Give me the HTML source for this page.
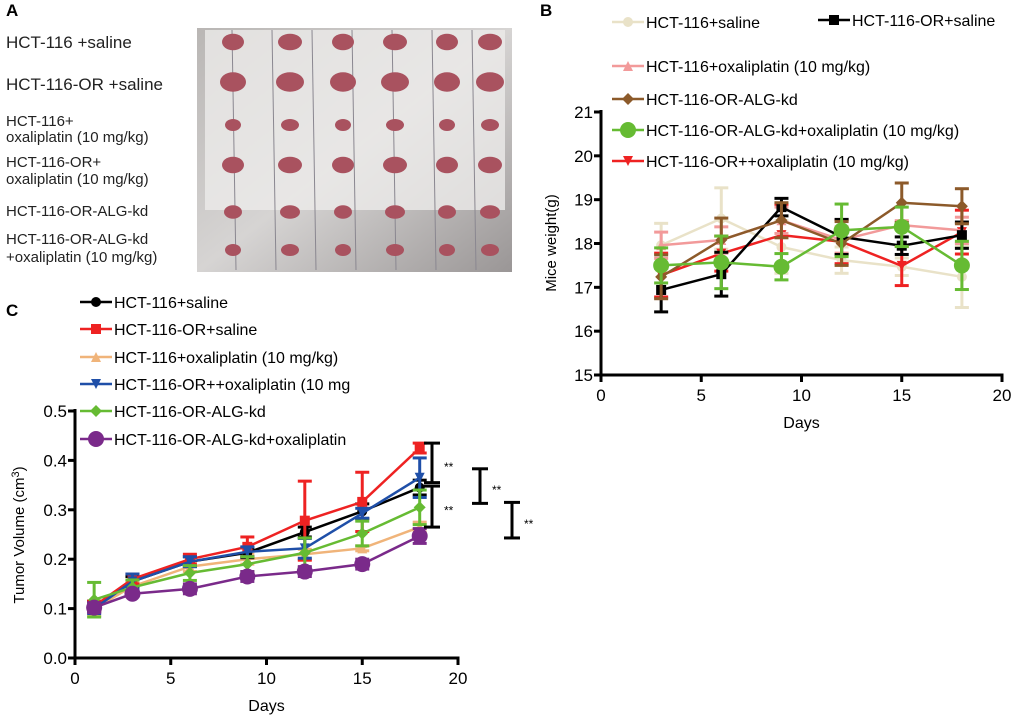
<!DOCTYPE html>
<html><head><meta charset="utf-8"><style>
body{margin:0;background:#fff;width:1020px;height:718px;overflow:hidden;font-family:"Liberation Sans",Arial,sans-serif}
svg text{font-family:"Liberation Sans",Arial,sans-serif}
</style></head><body>
<svg id="fig" width="1020" height="718" xmlns="http://www.w3.org/2000/svg">
<g>
<text x="6" y="16" font-size="17" font-weight="bold">A</text>
<defs><linearGradient id="pg" x1="0" y1="0" x2="1" y2="1"><stop offset="0" stop-color="#b9b6b4"/><stop offset="0.5" stop-color="#d6d4d3"/><stop offset="1" stop-color="#9a9696"/></linearGradient></defs>
<rect x="197" y="28" width="315" height="244" fill="url(#pg)"/>
<g id="photo"></g>
<g font-size="15" fill="#222">
<text x="6" y="48" font-size="17">HCT-116 +saline</text>
<text x="6" y="90" font-size="17">HCT-116-OR +saline</text>
<text x="6" y="126">HCT-116+</text><text x="6" y="142">oxaliplatin (10 mg/kg)</text>
<text x="6" y="167">HCT-116-OR+</text><text x="6" y="184">oxaliplatin (10 mg/kg)</text>
<text x="6" y="216">HCT-116-OR-ALG-kd</text>
<text x="6" y="244">HCT-116-OR-ALG-kd</text><text x="6" y="262">+oxaliplatin (10 mg/kg)</text>
</g></g>
<text x="540" y="16" font-size="17" font-weight="bold">B</text>
<text x="6" y="316" font-size="17" font-weight="bold">C</text>
<g id="pb"></g>
<g id="pc"></g>
</svg>
<script>
// Panel B data
const bDays=[3,6,9,12,15,18];
const bNames=["HCT-116+saline","HCT-116-OR+saline","HCT-116+oxaliplatin (10 mg/kg)","HCT-116-OR-ALG-kd","HCT-116-OR-ALG-kd+oxaliplatin (10 mg/kg)","HCT-116-OR++oxaliplatin (10 mg/kg)"];
const bBeige=[17.96,18.57,17.92,17.62,17.47,17.24];
const bBlack=[16.94,17.3,18.83,18.15,17.95,18.19];
const bPink=[17.96,18.08,18.53,18.08,18.42,18.3];
const bBrown=[17.24,18.08,18.53,18.0,18.93,18.85];
const bGreen=[17.5,17.57,17.47,18.3,18.38,17.5];
const bRed=[17.28,17.77,18.19,18.04,17.49,18.26];
const bErrBeige=[0.5,0.7,0.6,0.3,0.2,0.7];
const bErrBlack=[0.5,0.5,0.2,0.4,0.2,0.3];
const bErrPink=[0.3,0.3,0.3,0.3,0.1,0.3];
const bErrBrown=[0.5,0.5,0.4,0.5,0.45,0.4];
const bErrGreen=[0.4,0.6,0.3,0.6,0.45,0.55];
const bErrRed=[0.5,0.4,0.7,0.5,0.45,0.5];
// Panel C data
const cDays=[1,3,6,9,12,15,18];
const cNames=["HCT-116+saline","HCT-116-OR+saline","HCT-116+oxaliplatin (10 mg/kg)","HCT-116-OR++oxaliplatin (10 mg","HCT-116-OR-ALG-kd","HCT-116-OR-ALG-kd+oxaliplatin"];
const cBlack=[0.105,0.155,0.195,0.213,0.255,0.297,0.345];
const cRed=[0.105,0.16,0.2,0.225,0.278,0.316,0.425];
const cBeige=[0.1,0.145,0.185,0.2,0.21,0.222,0.265];
const cBlue=[0.1,0.155,0.195,0.215,0.222,0.293,0.365];
const cGreen=[0.118,0.143,0.172,0.19,0.213,0.252,0.305];
const cPurple=[0.102,0.13,0.14,0.165,0.175,0.19,0.247];
const cErrBlack=[0.01,0.01,0.01,0.01,0.01,0.015,0.015];
const cErrRed=[0.01,0.01,0.01,0.02,0.08,0.06,0.01];
const cErrBeige=[0.015,0.01,0.01,0.01,0.01,0.005,0.01];
const cErrBlue=[0.01,0.015,0.01,0.01,0.02,0.01,0.04];
const cErrGreen=[0.035,0.015,0.015,0.015,0.03,0.025,0.035];
const cErrPurple=[0.01,0.005,0.01,0.01,0.01,0.01,0.015];
const bTicksY=[15,16,17,18,19,20,21];
const cTicksY=[0.0,0.1,0.2,0.3,0.4,0.5];
const xTicks=[0,5,10,15,20];
const NS="http://www.w3.org/2000/svg";
function mk(p,t,a){const e=document.createElementNS(NS,t);for(const k in a)e.setAttribute(k,a[k]);p.appendChild(e);return e;}
function marker(g,shape,x,y,c,s){
 if(shape==="sq")return mk(g,"rect",{x:x-s,y:y-s,width:2*s,height:2*s,fill:c});
 if(shape==="circ")return mk(g,"circle",{cx:x,cy:y,r:s,fill:c});
 if(shape==="tri")return mk(g,"polygon",{points:`${x-s},${y-s} ${x+s},${y-s} ${x},${y+s}`,fill:c});
 if(shape==="utri")return mk(g,"polygon",{points:`${x-s},${y+s} ${x+s},${y+s} ${x},${y-s}`,fill:c});
 if(shape==="dia")return mk(g,"polygon",{points:`${x-s},${y} ${x},${y-s} ${x+s},${y} ${x},${y+s}`,fill:c});
}
function chart(root,cfg){
 const sx=v=>cfg.x0+(v-cfg.xmin)/(cfg.xmax-cfg.xmin)*(cfg.x1-cfg.x0);
 const sy=v=>cfg.y0-(v-cfg.ymin)/(cfg.ymax-cfg.ymin)*(cfg.y0-cfg.y1);
 const ax=mk(root,"g",{stroke:"#000","stroke-width":3});
 
 
 mk(ax,"line",{x1:cfg.x0,y1:cfg.y1-2,x2:cfg.x0,y2:cfg.y0+1.5});
 mk(ax,"line",{x1:cfg.x0-1.5,y1:cfg.y0,x2:cfg.x1+1.5,y2:cfg.y0});
 xTicks.forEach(t=>{mk(ax,"line",{x1:sx(t),y1:cfg.y0,x2:sx(t),y2:cfg.y0+7});
  const tx=mk(root,"text",{x:sx(t),y:cfg.y0+26,"font-size":17,"text-anchor":"middle"});tx.textContent=t;
  
  });
 cfg.yt.forEach(t=>{mk(ax,"line",{x1:cfg.x0-7,y1:sy(t),x2:cfg.x0,y2:sy(t)});
  if(cfg.ylab){const tx=mk(root,"text",{x:cfg.x0-8,y:sy(t)+6,"font-size":17,"text-anchor":"end"});tx.textContent=cfg.fmt(t);
  
  }});
 const xt=mk(root,"text",{x:(cfg.x0+cfg.x1)/2,y:cfg.y0+53,"font-size":16,"text-anchor":"middle"});xt.textContent="Days";
 
 
 cfg.series.forEach(s=>{
  const g=mk(root,"g",{});
  
  
  const pts=cfg.days.map((d,i)=>[sx(d),sy(s.v[i])]);
  mk(g,"polyline",{points:pts.map(p=>p.join(",")).join(" "),fill:"none",stroke:s.c,"stroke-width":2.5});
  pts.forEach((p,i)=>{const e=s.e[i];const lo=sy(s.v[i]-e),hi=sy(s.v[i]+e);
   mk(g,"line",{x1:p[0],y1:lo,x2:p[0],y2:hi,stroke:s.c,"stroke-width":3});
   mk(g,"line",{x1:p[0]-7,y1:lo,x2:p[0]+7,y2:lo,stroke:s.c,"stroke-width":3});
   mk(g,"line",{x1:p[0]-7,y1:hi,x2:p[0]+7,y2:hi,stroke:s.c,"stroke-width":3});
   const m=marker(g,s.m,p[0],p[1],s.c,s.sz);
   
   });
  const lg=mk(root,"g",{});
  
  
  mk(lg,"line",{x1:s.lx,y1:s.ly,x2:s.lx+32,y2:s.ly,stroke:s.c,"stroke-width":2.5});
  marker(lg,s.m,s.lx+16,s.ly,s.c,s.sz);
  const t=mk(lg,"text",{x:s.lx+34,y:s.ly+6,"font-size":s.fs});t.textContent=s.name;
 });
 return {sx,sy};
}
const pb=document.getElementById("pb");
chart(pb,{x0:601,x1:1002,y0:375,y1:112,xmin:0,xmax:20,ymin:15,ymax:21,yt:bTicksY,ylab:true,fmt:t=>t,days:bDays,series:[
 {key:"hct116-saline",name:bNames[0],v:bBeige,e:bErrBeige,c:"#e9e2c8",m:"circ",sz:5,lx:612,ly:22,fs:16},
 {key:"hct116-or-oxaliplatin",name:bNames[5],v:bRed,e:bErrRed,c:"#ee2222",m:"tri",sz:5,lx:612,ly:161,fs:16},
 {key:"hct116-oxaliplatin",name:bNames[2],v:bPink,e:bErrPink,c:"#f29a9a",m:"utri",sz:5,lx:612,ly:66,fs:16},
 {key:"hct116-or-saline",name:bNames[1],v:bBlack,e:bErrBlack,c:"#000",m:"sq",sz:5,lx:818,ly:20,fs:16},
 {key:"alg-kd",name:bNames[3],v:bBrown,e:bErrBrown,c:"#8c5a2a",m:"dia",sz:6,lx:612,ly:99,fs:16},
 {key:"alg-kd-oxaliplatin",name:bNames[4],v:bGreen,e:bErrGreen,c:"#66bb33",m:"circ",sz:8,lx:612,ly:130,fs:16}
]});
const yb=mk(pb,"text",{transform:"translate(556,243) rotate(-90)","font-size":15,"text-anchor":"middle"});yb.textContent="Mice weight(g)";


const pc=document.getElementById("pc");
const sc=chart(pc,{x0:75,x1:458,y0:658,y1:411,xmin:0,xmax:20,ymin:0,ymax:0.5,yt:cTicksY,ylab:true,fmt:t=>t.toFixed(1),days:cDays,series:[
 {key:"c-hct116-oxaliplatin",name:cNames[2],v:cBeige,e:cErrBeige,c:"#f0b47a",m:"utri",sz:5,lx:80,ly:357,fs:16},
 {key:"c-hct116-saline",name:cNames[0],v:cBlack,e:cErrBlack,c:"#000",m:"circ",sz:5,lx:80,ly:302,fs:16},
 {key:"c-hct116-or-saline",name:cNames[1],v:cRed,e:cErrRed,c:"#ee2222",m:"sq",sz:5,lx:80,ly:329,fs:16},
 {key:"c-hct116-or-oxaliplatin",name:cNames[3],v:cBlue,e:cErrBlue,c:"#1f4fa8",m:"tri",sz:5,lx:80,ly:384,fs:16},
 {key:"c-alg-kd",name:cNames[4],v:cGreen,e:cErrGreen,c:"#66bb33",m:"dia",sz:6,lx:80,ly:411,fs:16},
 {key:"c-alg-kd-oxaliplatin",name:cNames[5],v:cPurple,e:cErrPurple,c:"#7a2a8a",m:"circ",sz:8,lx:80,ly:439,fs:16}
]});
const yc=mk(pc,"text",{transform:"translate(24,535) rotate(-90)","font-size":15,"text-anchor":"middle"});yc.innerHTML='Tumor Volume (cm<tspan dy="-5" font-size="11">3</tspan><tspan dy="5">)</tspan>';


// significance brackets
[[432,0.435,0.355],[432,0.348,0.265],[480,0.383,0.313],[512,0.315,0.243]].forEach(b=>{
 const g=mk(pc,"g",{stroke:"#000","stroke-width":3});
 
 
 const y1=sc.sy(b[1]),y2=sc.sy(b[2]);
 mk(g,"line",{x1:b[0],y1:y1,x2:b[0],y2:y2});
 mk(g,"line",{x1:b[0]-8,y1:y1,x2:b[0]+8,y2:y1});
 mk(g,"line",{x1:b[0]-8,y1:y2,x2:b[0]+8,y2:y2});
 const t=mk(pc,"text",{x:b[0]+12,y:(y1+y2)/2+8,"font-size":12});t.textContent="**";
});
// photo
const ph=document.getElementById("photo");
mk(ph,"rect",{x:205,y:30,width:300,height:180,fill:"#ecebea",opacity:0.8});
[232,272,312,352,392,432,472].forEach(x=>mk(ph,"line",{x1:x,y1:30,x2:x+4,y2:270,stroke:"#8a8790","stroke-width":1}));
const rowsY=[42,82,125,165,212,250];const sizes=[11,13,8,11,9,8];
rowsY.forEach((y,r)=>[233,290,343,395,447,490].forEach((x,i)=>{
 const e=mk(ph,"ellipse",{cx:x,cy:y,rx:sizes[r]+ (i%2),ry:sizes[r]*0.75,fill:"#a9525f"});
 
 
}));
</script>
</body></html>
